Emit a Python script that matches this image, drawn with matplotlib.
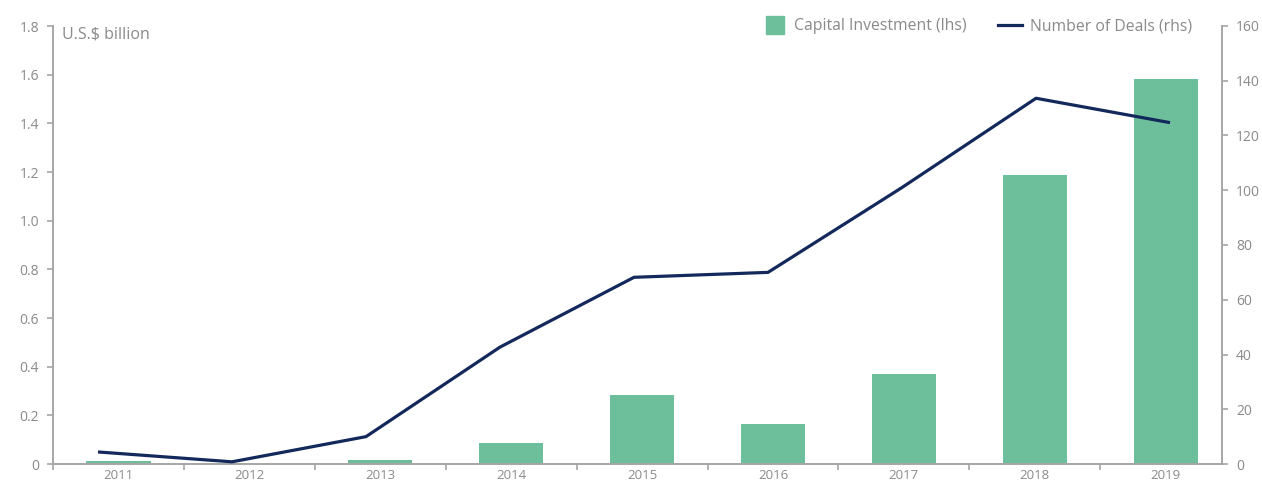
import matplotlib
matplotlib.use("Agg")
import matplotlib.pyplot as plt
from matplotlib.lines import Line2D

plt.rcParams['font.family'] = ['Open Sans', 'DejaVu Sans']

years = ["2011", "2012", "2013", "2014", "2015", "2016", "2017", "2018", "2019"]
capital_investment = [0.012, 0.0, 0.016, 0.086, 0.284, 0.164, 0.37, 1.188, 1.582]
number_of_deals = [4.4, 0.8, 10, 42.7, 68.2, 70.0, 101, 133.6, 124.7]
left_ticks = [0, 0.2, 0.4, 0.6, 0.8, 1.0, 1.2, 1.4, 1.6, 1.8]
left_labels = ["0", "0.2", "0.4", "0.6", "0.8", "1.0", "1.2", "1.4", "1.6", "1.8"]
right_ticks = [0, 20, 40, 60, 80, 100, 120, 140, 160]

BAR = "#6dbf9c"
LINE = "#13295c"
GRAY = "#8a8a8a"
SPINE = "#a6a6a6"

W, H = 1262, 482
fig = plt.figure(figsize=(W / 100, H / 100), dpi=100)
pos = [53 / W, 18 / H, (1222 - 53) / W, (464 - 26) / H]
ax = fig.add_axes(pos)
x = list(range(len(years)))
ax.bar(x, capital_investment, width=0.49, color=BAR, zorder=2)
ax.set_xlim(-0.5, 8.43)
ax.set_ylim(0, 1.8)
ax.set_yticks(left_ticks)
ax.set_yticklabels(left_labels)
ax.set_xticks(x)
ax.set_xticklabels(years)
ax.set_xticks([i - 0.5 for i in x], minor=True)
ax.tick_params(axis='x', which='major', length=0, pad=3.5, labelsize=9.5, labelcolor=GRAY)
ax.tick_params(axis='x', which='minor', length=4, width=1.2, color=SPINE)
ax.tick_params(axis='y', length=4, width=1.2, color=SPINE, labelsize=10, labelcolor=GRAY, pad=6)
for s in ['top', 'right']:
    ax.spines[s].set_visible(False)
for s in ['left', 'bottom']:
    ax.spines[s].set_color(SPINE)
    ax.spines[s].set_linewidth(1.4)
ax.text(0.008, 0.998, "U.S.$ billion", transform=ax.transAxes, ha='left', va='top',
        fontsize=11.5, color=GRAY)

ax2 = fig.add_axes(pos)
ax2.patch.set_visible(False)
ax2.plot(x, number_of_deals, color=LINE, linewidth=2.3, solid_capstyle='butt', zorder=3)
ax2.set_xlim(-0.336, 8.388)
ax2.set_ylim(0, 160)
ax2.set_yticks(right_ticks)
ax2.yaxis.tick_right()
ax2.xaxis.set_visible(False)
for s in ['top', 'left', 'bottom']:
    ax2.spines[s].set_visible(False)
ax2.spines['right'].set_color(SPINE)
ax2.spines['right'].set_linewidth(1.4)
ax2.tick_params(axis='y', length=4, width=1.2, color=SPINE, labelsize=10, labelcolor=GRAY, pad=6)

handles = [
    Line2D([], [], marker='s', markersize=13, linestyle='none', color=BAR),
    Line2D([], [], color=LINE, linewidth=2.3),
]
fig.legend(handles, ["Capital Investment (lhs)", "Number of Deals (rhs)"],
           loc='upper right', bbox_to_anchor=(1206 / W, 1.0 - 4 / H), ncol=2, frameon=False,
           fontsize=11.3, labelcolor=GRAY, handlelength=1.5, handletextpad=0.5,
           columnspacing=2.0, borderpad=0.4)

fig.savefig("out.png", dpi=100)
